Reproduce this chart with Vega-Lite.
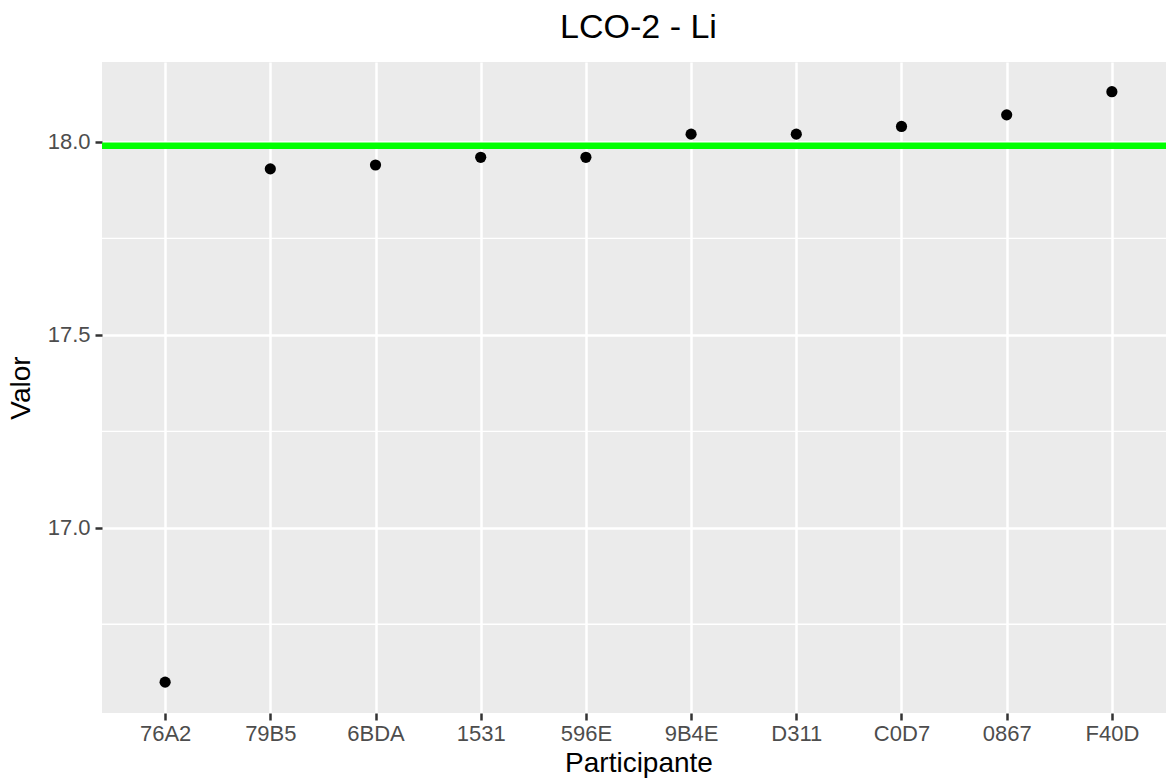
{
  "$schema": "https://vega.github.io/schema/vega-lite/v6.json",
  "autosize": {"type": "none"},
  "width": 1073,
  "height": 651,
  "padding": {"left": 102, "top": 62, "right": 0, "bottom": 65},
  "background": "white",
  "title": {
    "text": "LCO-2 - Li",
    "font": "Liberation Sans",
    "fontSize": 34,
    "fontWeight": "normal",
    "color": "black",
    "anchor": "middle",
    "offset": 17
  },
  "config": {
    "view": {"fill": "#EBEBEB", "stroke": null},
    "axis": {
      "labelFont": "Liberation Sans",
      "labelFontSize": 22,
      "labelColor": "#4D4D4D",
      "titleFont": "Liberation Sans",
      "titleFontSize": 28,
      "titleFontWeight": "normal",
      "titleColor": "black",
      "tickColor": "#333333",
      "tickSize": 7,
      "tickWidth": 2.5,
      "domain": false,
      "grid": true,
      "gridColor": "white",
      "gridWidth": 2.5
    }
  },
  "datasets": {
    "puntos": [
      {"participante": "76A2", "valor": 16.6},
      {"participante": "79B5", "valor": 17.93},
      {"participante": "6BDA", "valor": 17.94},
      {"participante": "1531", "valor": 17.96},
      {"participante": "596E", "valor": 17.96},
      {"participante": "9B4E", "valor": 18.02},
      {"participante": "D311", "valor": 18.02},
      {"participante": "C0D7", "valor": 18.04},
      {"participante": "0867", "valor": 18.07},
      {"participante": "F40D", "valor": 18.13}
    ],
    "menores": [
      {"v": 16.75},
      {"v": 17.25},
      {"v": 17.75}
    ],
    "referencia": [
      {"ref": 17.99}
    ]
  },
  "layer": [
    {
      "data": {"name": "menores"},
      "mark": {"type": "rule", "color": "white", "strokeWidth": 1.3},
      "encoding": {
        "y": {"field": "v", "type": "quantitative"}
      }
    },
    {
      "data": {"name": "puntos"},
      "mark": {"type": "point", "filled": true, "color": "black", "opacity": 1, "size": 125},
      "encoding": {
        "x": {
          "field": "participante",
          "type": "nominal",
          "sort": null,
          "scale": {"type": "point", "padding": 0.6},
          "axis": {"title": "Participante", "labelAngle": 0, "labelPadding": 3, "titlePadding": 5}
        },
        "y": {
          "field": "valor",
          "type": "quantitative",
          "scale": {"domain": [16.52, 18.207], "zero": false, "nice": false},
          "axis": {"title": "Valor", "values": [17, 17.5, 18], "format": ".1f", "labelPadding": 5, "titlePadding": 12}
        }
      }
    },
    {
      "data": {"name": "referencia"},
      "mark": {"type": "rule", "color": "#00FF00", "strokeWidth": 6.7},
      "encoding": {
        "y": {"field": "ref", "type": "quantitative"}
      }
    }
  ]
}
